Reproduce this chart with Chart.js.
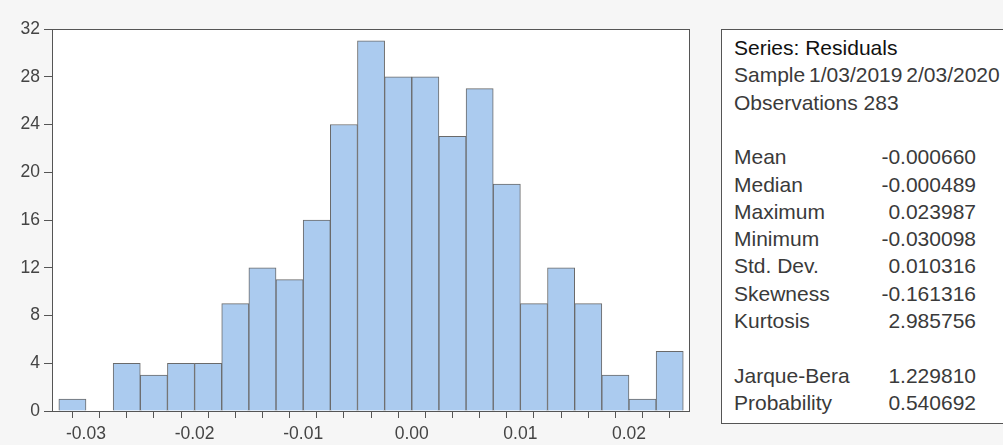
<!DOCTYPE html>
<html>
<head>
<meta charset="utf-8">
<script src="https://cdn.jsdelivr.net/npm/chart.js@4.4.1/dist/chart.umd.min.js"></script>
<style>
  html, body { margin: 0; padding: 0; }
  body {
    width: 1003px; height: 445px; overflow: hidden; position: relative;
    background: #f6f6f6; font-family: "Liberation Sans", Arial, sans-serif;
  }
  #wrap { position: absolute; left: 0; top: 0; width: 700px; height: 445px; }
  #stats {
    position: absolute; left: 721px; top: 29px; width: 300px; height: 395px;
    background: #fff; border: 1px solid #555; box-sizing: border-box;
    color: #3a3a3a; font-size: 21px; line-height: 24px;
  }
  #stats .row { position: absolute; left: 12px; white-space: nowrap; }
  #stats .val { position: absolute; left: 0; width: 254px; text-align: right; white-space: nowrap; }
</style>
</head>
<body>
<div id="wrap"><canvas id="chart"></canvas></div>
<div id="stats"></div>
<script>
// histogram bins (left edges) and counts
const binStart = -0.0325;
const binWidth = 0.0025;
const counts = [1, 0, 4, 3, 4, 4, 9, 12, 11, 16, 24, 31, 28, 28, 23, 27, 19, 9, 12, 9, 3, 1, 5];
const yTicks = [0, 4, 8, 12, 16, 20, 24, 28, 32];

const headerLines = ['Series: Residuals', 'Sample 1/03/2019 2/03/2020', 'Observations 283'];
const statNames = ['Mean', 'Median', 'Maximum', 'Minimum', 'Std. Dev.', 'Skewness', 'Kurtosis'];
const statValues = ['-0.000660', '-0.000489', '0.023987', '-0.030098', '0.010316', '-0.161316', '2.985756'];
const testNames = ['Jarque-Bera', 'Probability'];
const testValues = ['1.229810', '0.540692'];

const edges = [];
for (let i = 0; i <= counts.length; i++) edges.push(binStart + i * binWidth);
const points = counts.map((c, i) => ({x: binStart + (i + 0.5) * binWidth, y: c}));

// stats box text
const box = document.getElementById('stats');
let y = 6;
function addRow(label, value, color) {
  const d = document.createElement('div');
  d.className = 'row';
  d.style.top = y + 'px';
  d.textContent = label;
  if (color) d.style.color = color;
  box.appendChild(d);
  if (value !== undefined) {
    const v = document.createElement('div');
    v.className = 'val';
    v.style.top = y + 'px';
    v.textContent = value;
    box.appendChild(v);
  }
  y += 27.3;
  return d;
}
headerLines.forEach((t, i) => {
  const d = addRow(t, undefined, i == 0 ? '#111' : null);
  if (i == 1) d.style.wordSpacing = '-2px';
});
y += 27.3;
statNames.forEach((n, i) => addRow(n, statValues[i]));
y += 27.3;
testNames.forEach((n, i) => addRow(n, testValues[i]));

const frame = {
  id: 'frame',
  beforeDraw(chart) {
    const a = chart.chartArea, c = chart.ctx;
    c.save();
    c.fillStyle = '#ffffff';
    c.fillRect(a.left, a.top, a.right - a.left, a.bottom - a.top);
    c.restore();
  },
  afterDraw(chart) {
    const a = chart.chartArea, c = chart.ctx;
    c.save();
    c.strokeStyle = '#555';
    c.lineWidth = 1;
    c.strokeRect(a.left + 0.5, a.top + 0.5, a.right - a.left - 1, a.bottom - a.top);
    c.restore();
  }
};

new Chart(document.getElementById('chart'), {
  type: 'bar',
  data: {
    datasets: [{
      data: points,
      backgroundColor: '#abcbef',
      borderColor: '#6a6a6a',
      borderWidth: 1,
      barPercentage: 1,
      categoryPercentage: 1
    }]
  },
  options: {
    responsive: true,
    maintainAspectRatio: false,
    animation: false,
    layout: { padding: { top: 29, right: 10, left: 0, bottom: 0 } },
    plugins: { legend: { display: false }, tooltip: { enabled: false } },
    scales: {
      x: {
        type: 'linear',
        offset: false,
        min: -0.03313,
        max: 0.02562,
        afterBuildTicks: s => { s.ticks = edges.map(v => ({value: v})); },
        afterFit: s => { s.height = 34; },
        grid: { drawOnChartArea: false, tickLength: 7, color: '#555' },
        border: { display: false },
        ticks: {
          autoSkip: false, maxRotation: 0, padding: 6,
          color: '#444', font: { size: 17.5, family: 'Liberation Sans' },
          callback: v => {
            const h = v * 100;
            if (Math.abs(Math.round(h) - h) > 1e-6) return '';
            return (Math.round(h) / 100).toFixed(2);
          }
        }
      },
      y: {
        min: 0,
        max: 32,
        afterBuildTicks: s => { s.ticks = yTicks.map(v => ({value: v})); },
        afterFit: s => { s.width = 52; },
        grid: { drawOnChartArea: false, tickLength: 8, color: '#555' },
        border: { display: false },
        ticks: { padding: 4, color: '#444', font: { size: 17.5, family: 'Liberation Sans' } }
      }
    }
  },
  plugins: [frame]
});
</script>
</body>
</html>
